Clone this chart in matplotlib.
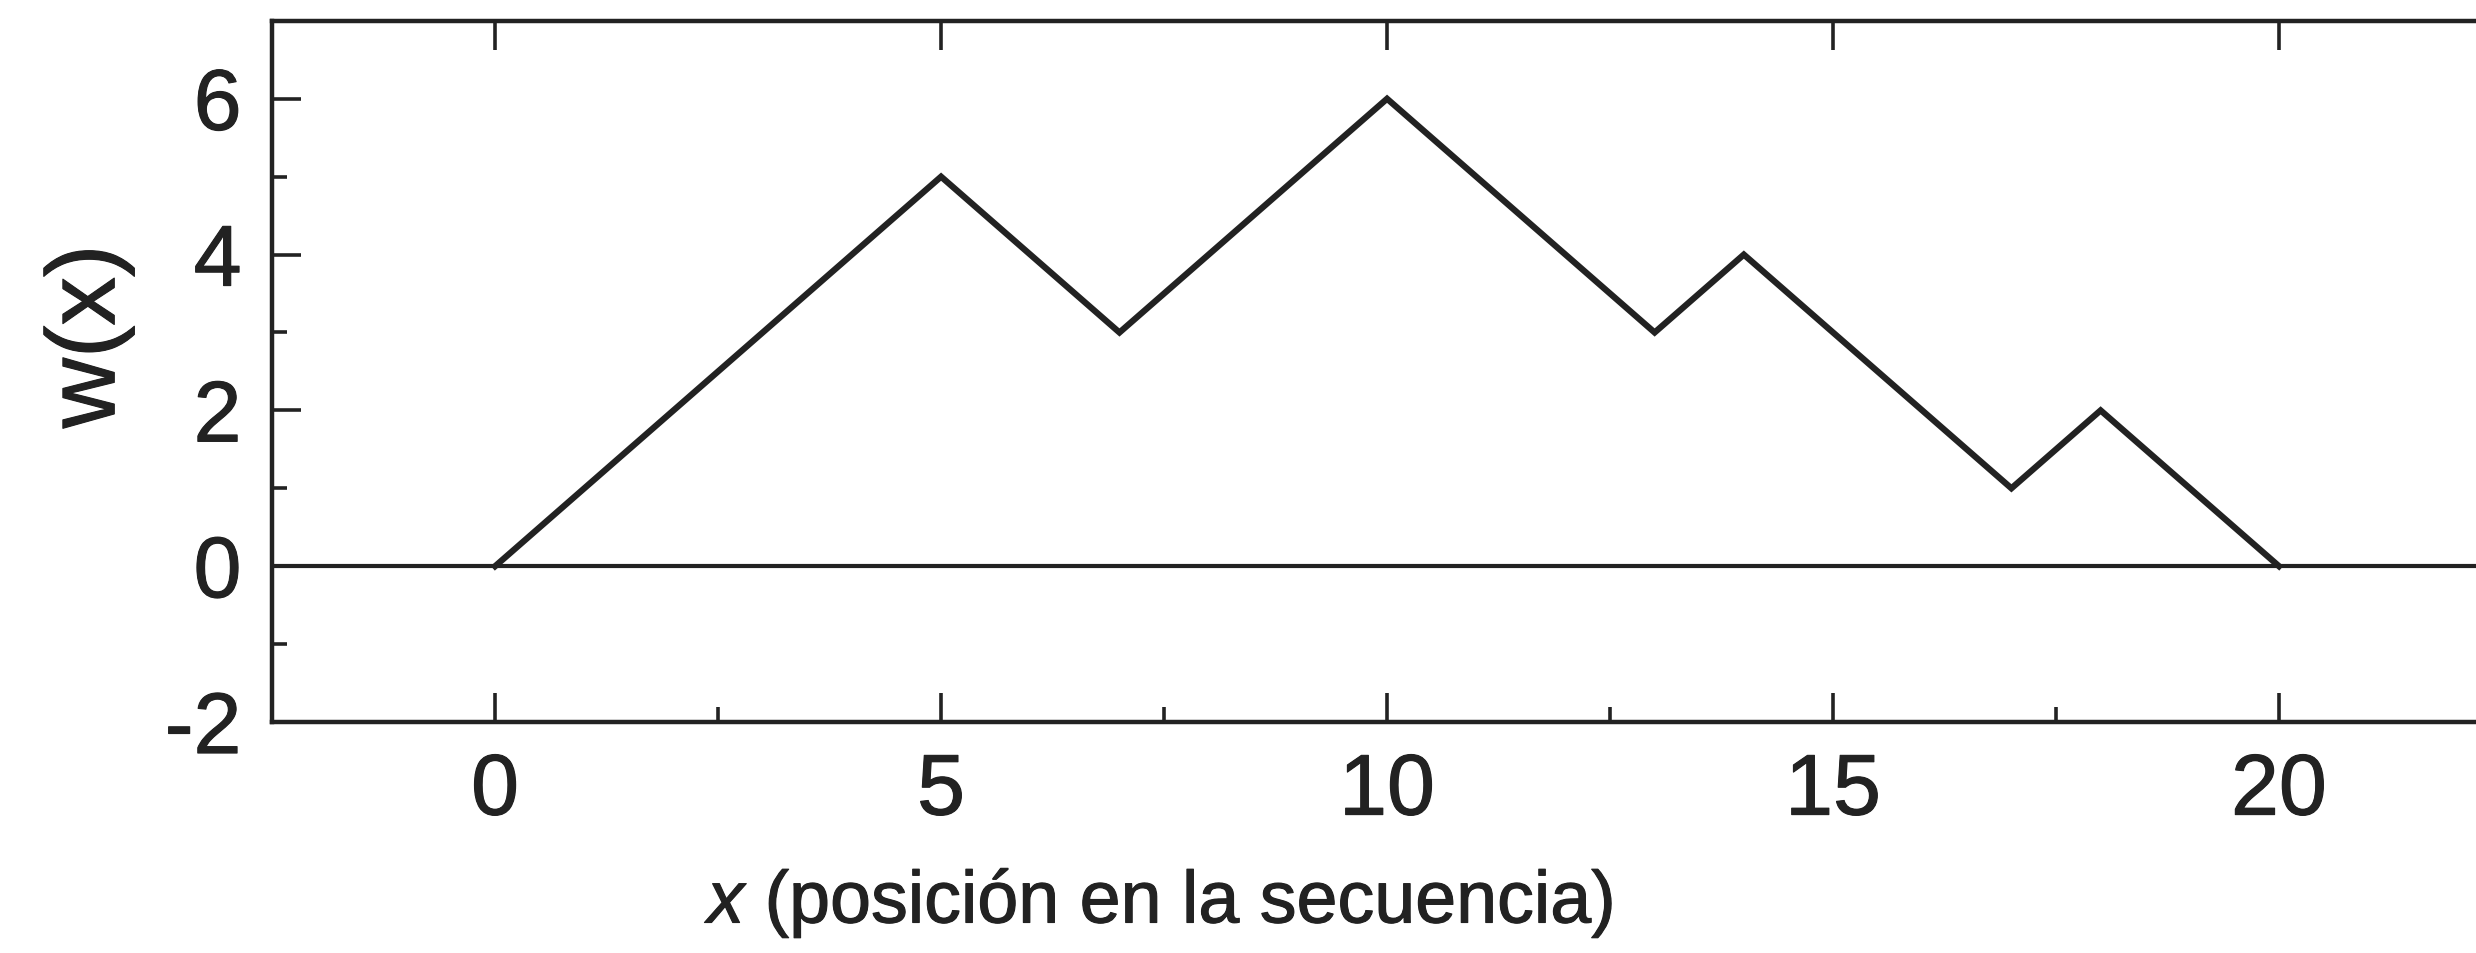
import matplotlib
matplotlib.use('Agg')
import matplotlib.pyplot as plt
import matplotlib.patheffects as pe
from matplotlib.ticker import MultipleLocator

# camino w(x) de la secuencia
posiciones = [0, 5, 7, 10, 13, 14, 17, 18, 20]
valores_w = [0, 5, 3, 6, 3, 4, 1, 2, 0]

ticks_x = [0, 5, 10, 15, 20]
ticks_y = [-2, 0, 2, 4, 6]

color_tinta = '#222222'

plt.rcParams['font.family'] = ['Liberation Sans', 'DejaVu Sans']
plt.rcParams['mathtext.fontset'] = 'custom'
plt.rcParams['mathtext.it'] = 'Liberation Sans:italic'
plt.rcParams['mathtext.rm'] = 'Liberation Sans'
plt.rcParams['axes.unicode_minus'] = False

fig = plt.figure(figsize=(24.76, 9.54), dpi=100)
ax = fig.add_axes([0.1099, 0.2421, 0.9006, 0.735])

ax.plot(posiciones, valores_w, color=color_tinta, linewidth=4.5, solid_joinstyle='miter')
ax.axhline(0, color=color_tinta, linewidth=3)

ax.set_xlim(-2.5, 22.5)
ax.set_ylim(-2, 7)
ax.set_xticks(ticks_x)
ax.set_yticks(ticks_y)
ax.xaxis.set_minor_locator(MultipleLocator(2.5))
ax.yaxis.set_minor_locator(MultipleLocator(1))

for lado in ax.spines.values():
    lado.set_linewidth(3.2)
    lado.set_color(color_tinta)

ax.tick_params(which='major', direction='in', length=21, width=2.6, color=color_tinta,
               labelsize=62, labelcolor=color_tinta, pad=22, top=True)
ax.tick_params(which='minor', direction='in', length=11, width=2.6, color=color_tinta, top=False)

ax.set_xlabel('$\\it{x}$ (posición en la secuencia)', fontsize=53, color=color_tinta)
ax.xaxis.set_label_coords(0.399, -0.205)
ax.xaxis.label.set_va('top')

ax.set_ylabel('w(x)', fontsize=70, color=color_tinta)
ax.yaxis.set_label_coords(-0.082, 0.55)
ax.yaxis.label.set_va('center')

# trazo algo más grueso, como en la figura escaneada
trazo = [pe.withStroke(linewidth=0.8, foreground=color_tinta)]
for t in ax.get_xticklabels() + ax.get_yticklabels() + [ax.xaxis.label, ax.yaxis.label]:
    t.set_path_effects(trazo)

fig.savefig('out.png', dpi=100)
